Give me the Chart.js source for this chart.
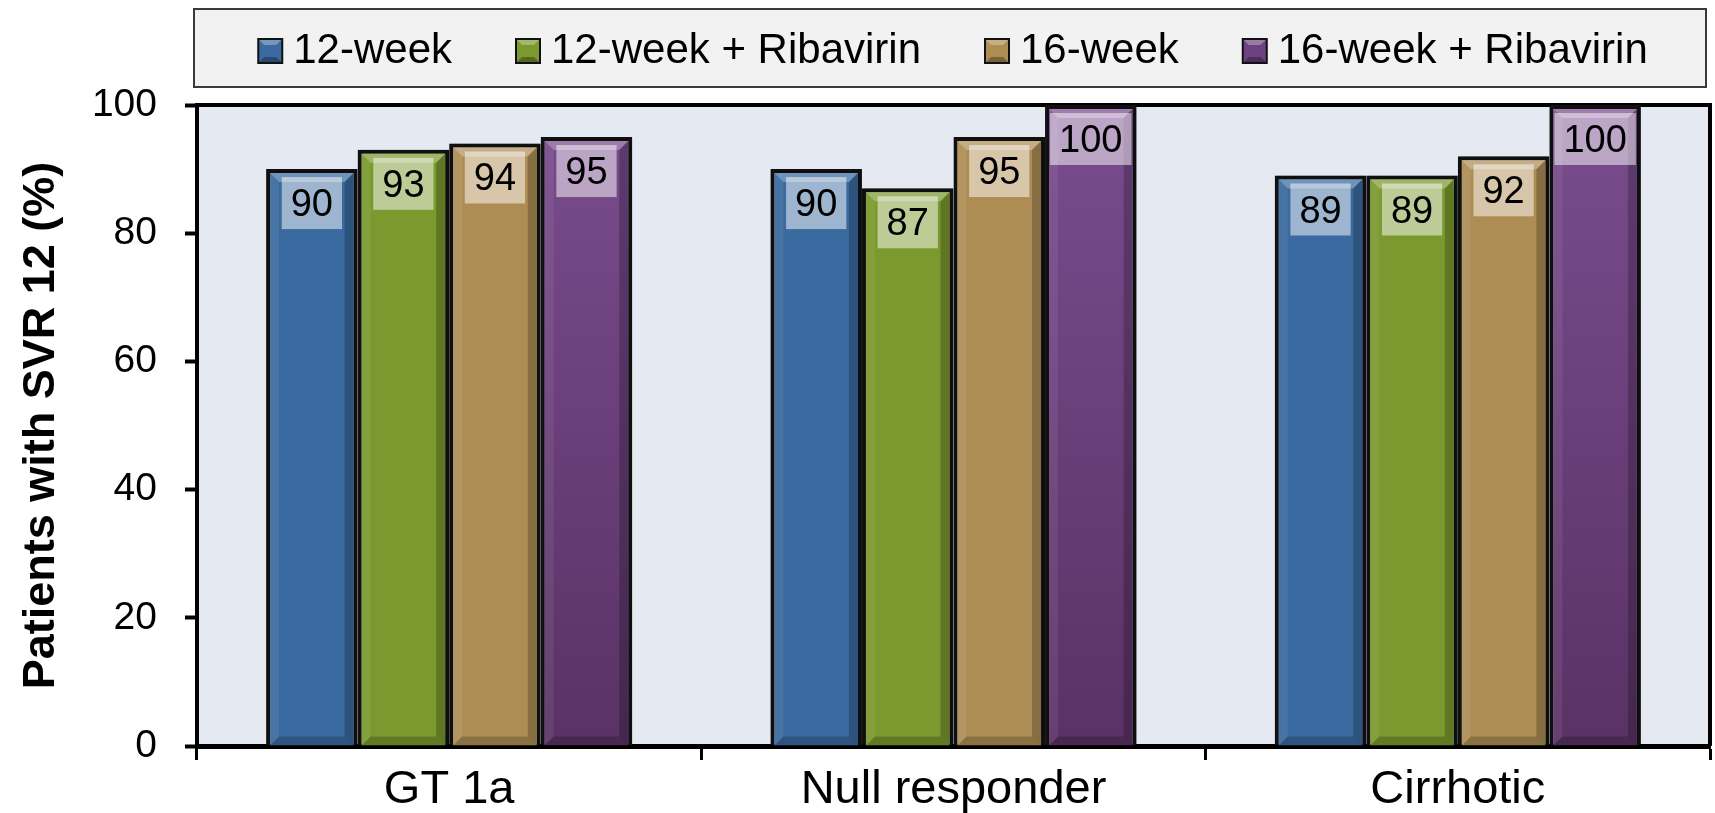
<!DOCTYPE html>
<html>
<head>
<meta charset="utf-8">
<title>SVR 12</title>
<script src="https://cdn.jsdelivr.net/npm/chart.js@4.4.0/dist/chart.umd.min.js"></script>
<style>
    html, body { margin: 0; padding: 0; background: #fff; }
    #wrap { width: 1715px; height: 813px; }
</style>
</head>
<body>
<div id="wrap"><canvas id="chartSvr" width="1715" height="813"></canvas></div>
<script>
// ── Datos ──
const categories  = ['GT 1a', 'Null responder', 'Cirrhotic'];
const seriesNames = ['12-week', '12-week + Ribavirin', '16-week', '16-week + Ribavirin'];
const wk12        = [90, 90, 89];
const wk12Riba    = [93, 87, 89];
const wk16        = [94, 95, 92];
const wk16Riba    = [95, 100, 100];
const yTicks      = [0, 20, 40, 60, 80, 100];

const FONT   = "'Liberation Sans', Arial, sans-serif";
const COLORS = ['#3a6a9f', '#7a992e', '#ae8d55', '#6c4280'];

// ── Morado con degradado vertical ──
function purpleFill(c) {
    const a = c.chart.chartArea;
    if (!a) return COLORS[3];
    const g = c.chart.ctx.createLinearGradient(0, a.top, 0, a.bottom);
    g.addColorStop(0, '#7a4c8e');
    g.addColorStop(1, '#5a3265');
    return g;
}

// ── Plugin: fondo, marco, biseles, etiquetas y leyenda ──
const decoPlugin = {
    id: 'deco',
    beforeDraw(chart) {
        const { ctx, chartArea: a } = chart;
        ctx.save();
        ctx.fillStyle = '#e4e9f2';
        ctx.fillRect(a.left, a.top, a.right - a.left, a.bottom - a.top);
        ctx.restore();
    },
    beforeDatasetsDraw(chart) {
        const { ctx, chartArea: a } = chart;
        ctx.save();
        ctx.strokeStyle = '#000';
        ctx.lineWidth = 4;
        ctx.beginPath();
        ctx.moveTo(a.left, a.top);
        ctx.lineTo(a.right, a.top);
        ctx.lineTo(a.right, a.bottom);
        ctx.stroke();
        ctx.restore();
        // sombra suave de las barras
        ctx.save();
        ctx.shadowColor = 'rgba(0,0,0,0.35)';
        ctx.shadowBlur = 6;
        ctx.shadowOffsetX = 1;
    },
    afterDatasetsDraw(chart) {
        const ctx = chart.ctx;
        ctx.restore();
        const bw = 4, bev = 9;
        chart.data.datasets.forEach((ds, i) => {
            chart.getDatasetMeta(i).data.forEach((bar, j) => {
                const p = bar.getProps(['x', 'y', 'base', 'width'], true);
                const l = p.x - p.width / 2 + bw, r = p.x + p.width / 2 - bw;
                const t = p.y + bw, b = p.base;
                ctx.save();
                const poly = (pts, col) => {
                    ctx.fillStyle = col;
                    ctx.beginPath();
                    ctx.moveTo(pts[0][0], pts[0][1]);
                    pts.slice(1).forEach(q => ctx.lineTo(q[0], q[1]));
                    ctx.closePath();
                    ctx.fill();
                };
                poly([[l, t], [r, t], [r - bev, t + bev], [l + bev, t + bev]], 'rgba(255,255,255,0.28)');
                poly([[l, t], [l + bev, t + bev], [l + bev, b - bev], [l, b]], 'rgba(255,255,255,0.07)');
                poly([[r, t], [r, b], [r - bev, b - bev], [r - bev, t + bev]], 'rgba(0,0,0,0.22)');
                poly([[l, b], [r, b], [r - bev, b - bev], [l + bev, b - bev]], 'rgba(0,0,0,0.2)');

                // etiqueta con caja translúcida
                const txt = String(ds.data[j]);
                ctx.font = '38px ' + FONT;
                const tw = ctx.measureText(txt).width;
                const boxW = tw + 18, boxH = 52;
                const bx = p.x - boxW / 2, by = p.y + 8;
                ctx.fillStyle = 'rgba(255,255,255,0.5)';
                ctx.fillRect(bx, by, boxW, boxH);
                ctx.fillStyle = '#000';
                ctx.textAlign = 'center';
                ctx.textBaseline = 'alphabetic';
                ctx.fillText(txt, p.x, by + boxH / 2 + 13);
                ctx.restore();
            });
        });
    },
    afterDraw(chart) {
        const ctx = chart.ctx;
        const box = { l: 194, t: 9, r: 1706, b: 87 };
        ctx.save();
        ctx.fillStyle = '#f2f2f2';
        ctx.fillRect(box.l, box.t, box.r - box.l, box.b - box.t);
        ctx.strokeStyle = '#3a3a3a';
        ctx.lineWidth = 2;
        ctx.strokeRect(box.l, box.t, box.r - box.l, box.b - box.t);

        ctx.font = '42px ' + FONT;
        const sw = 24, gapTxt = 11, gapItem = 64;
        const widths = seriesNames.map(n => sw + gapTxt + ctx.measureText(n).width);
        const total = widths.reduce((s, w) => s + w, 0) + gapItem * (seriesNames.length - 1);
        let x = (box.l + box.r) / 2 - total / 2 + 3;
        const base = 63;
        seriesNames.forEach((n, i) => {
            const sy = base - sw;
            ctx.fillStyle = COLORS[i];
            ctx.fillRect(x, sy, sw, sw);
            // bisel de la muestra
            const e = 6;
            ctx.fillStyle = 'rgba(255,255,255,0.3)';
            ctx.beginPath(); ctx.moveTo(x, sy); ctx.lineTo(x + sw, sy); ctx.lineTo(x + sw - e, sy + e); ctx.lineTo(x + e, sy + e); ctx.closePath(); ctx.fill();
            ctx.fillStyle = 'rgba(0,0,0,0.3)';
            ctx.beginPath(); ctx.moveTo(x, sy + sw); ctx.lineTo(x + sw, sy + sw); ctx.lineTo(x + sw - e, sy + sw - e); ctx.lineTo(x + e, sy + sw - e); ctx.closePath(); ctx.fill();
            ctx.strokeStyle = '#111';
            ctx.lineWidth = 2;
            ctx.strokeRect(x, sy, sw, sw);
            ctx.fillStyle = '#000';
            ctx.textAlign = 'left';
            ctx.textBaseline = 'alphabetic';
            ctx.fillText(n, x + sw + gapTxt, base);
            x += widths[i] + gapItem;
        });
        ctx.restore();
    }
};

const commonBar = {
    barPercentage: 1.0,
    categoryPercentage: 0.726,
    borderWidth: 4,
    borderColor: '#111',
    borderSkipped: 'bottom'
};

new Chart(document.getElementById('chartSvr'), {
    type: 'bar',
    data: {
        labels: categories,
        datasets: [
            { label: seriesNames[0], data: wk12,     backgroundColor: COLORS[0], ...commonBar },
            { label: seriesNames[1], data: wk12Riba, backgroundColor: COLORS[1], ...commonBar },
            { label: seriesNames[2], data: wk16,     backgroundColor: COLORS[2], ...commonBar },
            { label: seriesNames[3], data: wk16Riba, backgroundColor: purpleFill, ...commonBar }
        ]
    },
    options: {
        responsive: false,
        animation: false,
        devicePixelRatio: 1,
        layout: { padding: { top: 105, right: 5, left: 0, bottom: 0 } },
        plugins: {
            legend: { display: false },
            tooltip: { enabled: false }
        },
        scales: {
            x: {
                grid: { drawOnChartArea: false, drawTicks: true, tickLength: 14, tickWidth: 3, tickColor: '#000', offset: true },
                border: { color: '#000', width: 5 },
                ticks: { color: '#000', font: { size: 47, family: FONT }, padding: 2 },
                afterFit: s => { s.height = 67; }
            },
            y: {
                min: 0,
                max: 100,
                afterBuildTicks: s => { s.ticks = yTicks.map(v => ({ value: v })); },
                grid: { drawOnChartArea: false, drawTicks: true, tickLength: 12, tickWidth: 4, tickColor: '#000' },
                border: { color: '#000', width: 4 },
                ticks: { color: '#000', font: { size: 39, family: FONT }, padding: 28 },
                title: {
                    display: true,
                    text: 'Patients with SVR 12 (%)',
                    color: '#000',
                    font: { size: 45, weight: 'bold', family: FONT },
                    padding: { top: 15, bottom: 0 }
                },
                afterFit: s => { s.width = 197; }
            }
        }
    },
    plugins: [decoPlugin]
});
</script>
</body>
</html>
